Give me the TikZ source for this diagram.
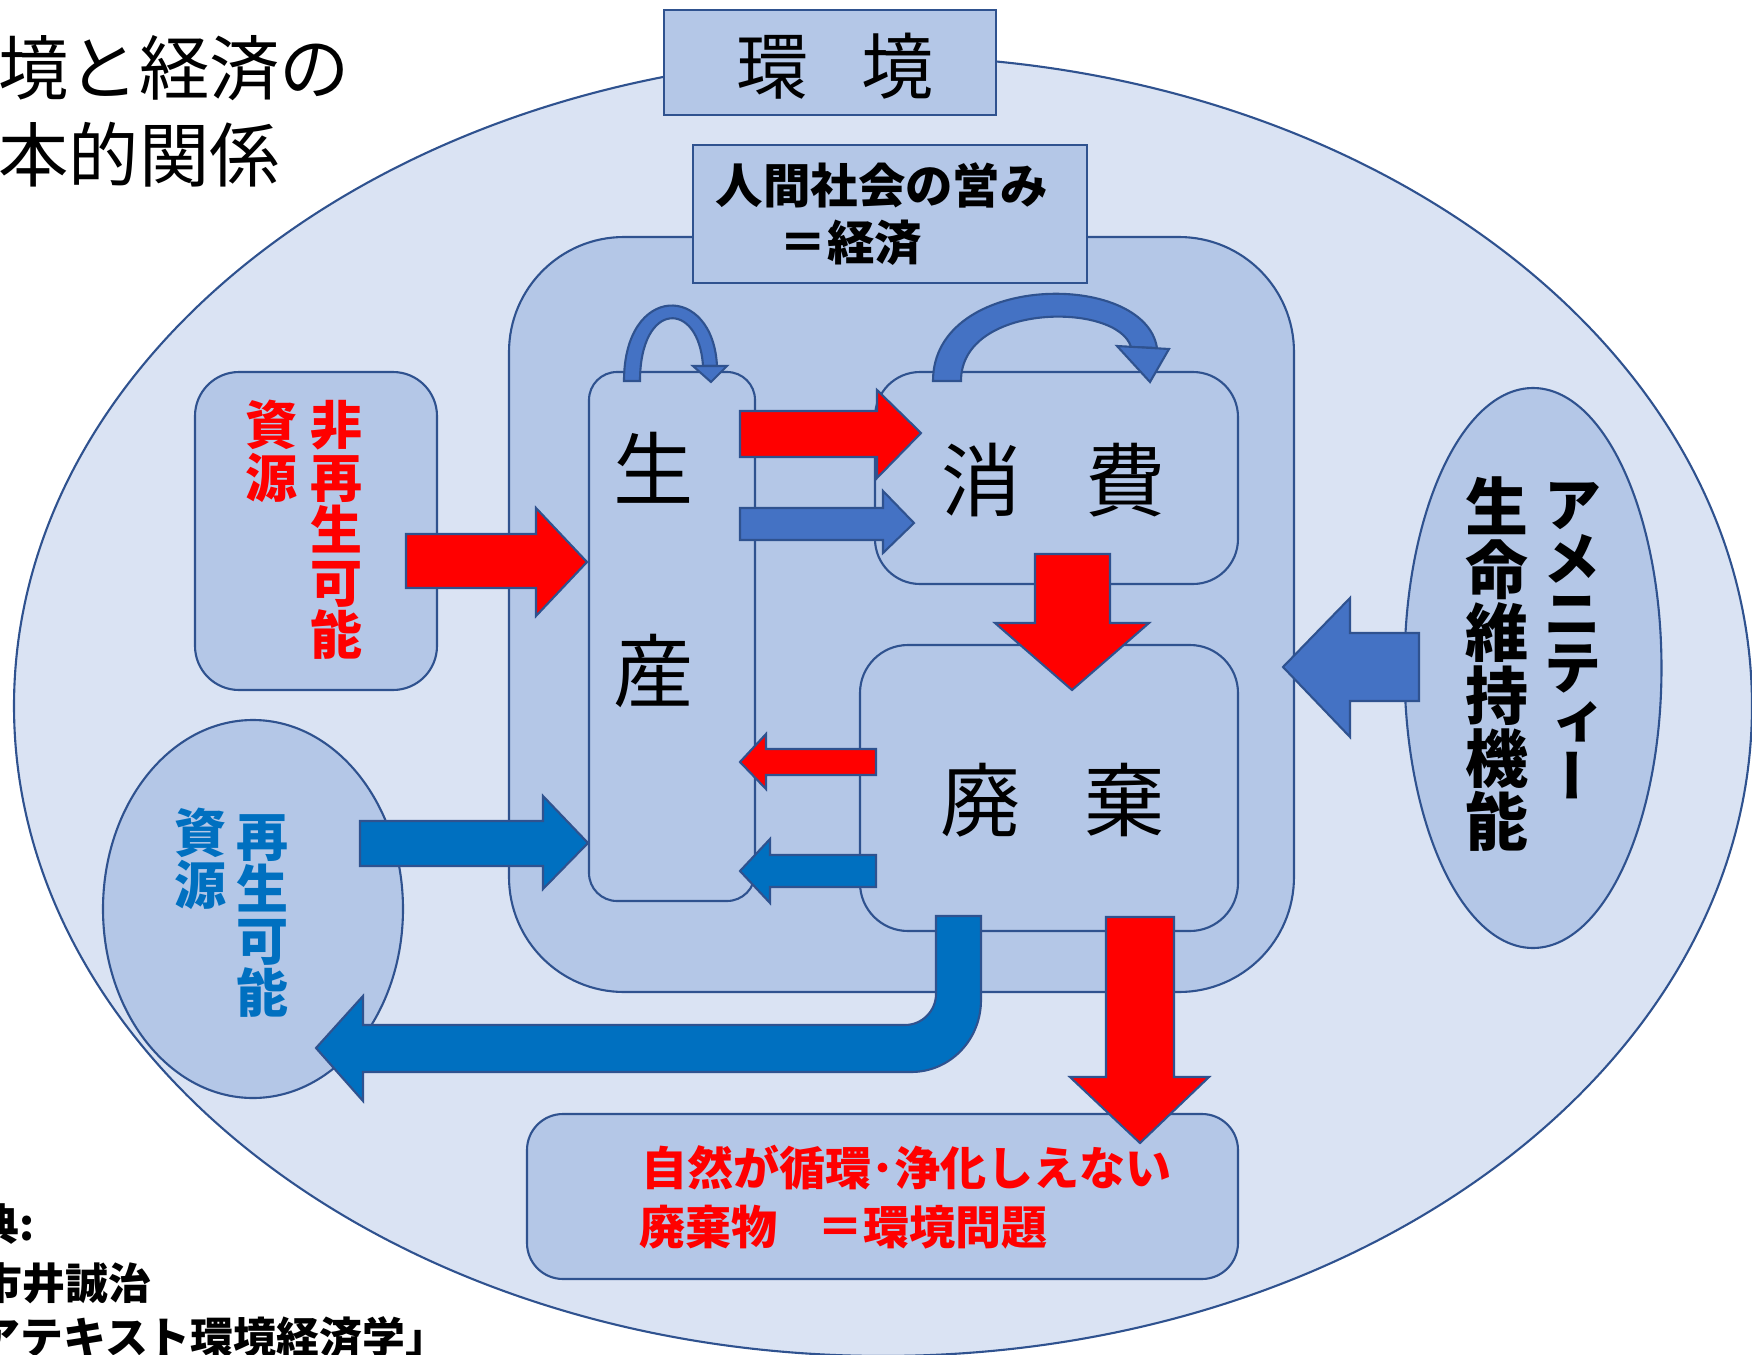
\documentclass[tikz,border=0pt]{standalone}
\usepackage{fontspec}
\newfontfamily\jp{Noto Sans CJK JP}
\newfontfamily\jpv[RawFeature=+vert]{Noto Sans CJK JP}
\usetikzlibrary{shapes.geometric}
\definecolor{envfill}{HTML}{DAE3F3}
\definecolor{boxfill}{HTML}{B4C7E7}
\definecolor{edge}{HTML}{2F528F}
\definecolor{accent}{HTML}{4472C4}
\definecolor{recyc}{HTML}{0070C0}
\definecolor{nred}{HTML}{FF0000}
\begin{document}
\begin{tikzpicture}[x=0.1mm,y=-0.1mm,
  shapeline/.style={draw=edge, line width=0.6pt, line join=miter},
  roundbox/.style={shapeline, fill=boxfill, rectangle, inner sep=0pt},
  oval/.style={shapeline, fill=boxfill, ellipse, inner sep=0pt},
  blockred/.style={shapeline, fill=nred},
  blockblue/.style={shapeline, fill=recyc},
  blockacc/.style={shapeline, fill=accent},
  titletext/.style={inner sep=0pt, anchor=west, font=\jp\fontsize{20pt}{22pt}\selectfont},
  srctext/.style={inner sep=0pt, anchor=west, font=\jp\bfseries\fontsize{12.2pt}{14pt}\selectfont},
  bigchar/.style={inner sep=0pt, font=\jp\fontsize{22.8pt}{24pt}\selectfont},
  envchar/.style={inner sep=0pt, font=\jp\fontsize{20.5pt}{22pt}\selectfont},
  ecotext/.style={inner sep=0pt, anchor=west, font=\jp\bfseries\fontsize{13.5pt}{15pt}\selectfont},
  vred/.style={inner sep=0pt, text=nred, text height=12.9pt, text depth=1.7pt, font=\jp\bfseries\fontsize{14.8pt}{15pt}\selectfont},
  vblue/.style={inner sep=0pt, text=recyc, text height=12.9pt, text depth=1.7pt, font=\jp\bfseries\fontsize{14.8pt}{15pt}\selectfont},
  vblack/.style={inner sep=0pt, text height=15.6pt, text depth=2.1pt, font=\jpv\bfseries\fontsize{17.9pt}{18pt}\selectfont},
  vkana/.style={inner sep=0pt, text height=13.4pt, text depth=1.8pt, font=\jpv\bfseries\fontsize{16.6pt}{17pt}\selectfont},
  probtext/.style={inner sep=0pt, anchor=west, text=nred, font=\jp\bfseries\fontsize{13.1pt}{14pt}\selectfont}
]
\useasboundingbox (0,0) rectangle (1752,1355);
\clip (0,0) rectangle (1752,1355);

% environment
\node[oval, fill=envfill, minimum width=173.8mm, minimum height=130mm] (env) at (883,706) {};
\node[roundbox, minimum width=33.2mm, minimum height=10.5mm] (envbox) at (830,62.5) {};
% economy
\node[roundbox, rounded corners=11.5mm, minimum width=78.5mm, minimum height=75.5mm] (eco) at (901.5,614.5) {};
\node[roundbox, minimum width=39.4mm, minimum height=13.8mm] (ecobox) at (890,214) {};
% resources
\node[roundbox, rounded corners=4.4mm, minimum width=24.2mm, minimum height=31.8mm] (nonren) at (316,531) {};
\node[oval, minimum width=30mm, minimum height=37.8mm] (ren) at (253,909) {};
\node[oval, minimum width=25.7mm, minimum height=56mm] (amen) at (1533,668) {};
% economy parts
\node[roundbox, rounded corners=2.8mm, minimum width=16.6mm, minimum height=52.9mm] (prod) at (672,636.5) {};
\node[roundbox, rounded corners=4.5mm, minimum width=36.3mm, minimum height=21.2mm] (cons) at (1056.5,478) {};
\node[roundbox, rounded corners=4.8mm, minimum width=37.8mm, minimum height=28.6mm] (waste) at (1049,788) {};
\node[roundbox, rounded corners=3.6mm, minimum width=71.1mm, minimum height=16.5mm] (prob) at (882.5,1196.5) {};

% curved arrows on top
\draw[blockacc] (624,381) .. controls (624,283) and (713,283) .. (717,366)
   -- (703,366) .. controls (699,300) and (640,300) .. (640,381) -- cycle;
\draw[blockacc] (693,366) -- (727,366) -- (711,382) -- cycle;
\draw[blockacc] (933,381) .. controls (933,272) and (1145,270) .. (1157,348)
   -- (1131,347) .. controls (1118,302) and (961,302) .. (961,381) -- cycle;
\draw[blockacc] (1117,346) -- (1169,349) -- (1150,382) -- cycle;

% straight block arrows
\draw[blockred] (406,534) -- (536,534) -- (536,508) -- (587,562) -- (536,616) -- (536,588) -- (406,588) -- cycle;
\draw[blockblue] (360,821) -- (543,821) -- (543,796) -- (588,843) -- (543,889) -- (543,866) -- (360,866) -- cycle;
\draw[blockred] (740,411) -- (877,411) -- (877,390) -- (921,433) -- (877,478) -- (877,457) -- (740,457) -- cycle;
\draw[blockacc] (740,508) -- (883,508) -- (883,491) -- (914,523) -- (883,553) -- (883,540) -- (740,540) -- cycle;
\draw[blockred] (1035,554) -- (1110,554) -- (1110,623) -- (1149,623) -- (1072,690) -- (995,623) -- (1035,623) -- cycle;
\draw[blockred] (876,749) -- (766,749) -- (766,734) -- (740,762) -- (766,789) -- (766,775) -- (876,775) -- cycle;
\draw[blockblue] (876,855) -- (770,855) -- (770,839) -- (740,871) -- (770,903) -- (770,887) -- (876,887) -- cycle;
\draw[blockacc] (1419,633) -- (1350,633) -- (1350,598) -- (1283,667) -- (1350,737) -- (1350,701) -- (1419,701) -- cycle;
\draw[blockred] (1106,917) -- (1174,917) -- (1174,1077) -- (1209,1077) -- (1140,1143) -- (1070,1077) -- (1106,1077) -- cycle;
\draw[blockblue] (936,916) -- (981,916) -- (981,1000) .. controls (981,1040) and (950,1072) .. (911,1072)
   -- (363,1072) -- (363,1101) -- (316,1048) -- (363,996) -- (363,1025) -- (905,1025)
   .. controls (922,1025) and (936,1011) .. (936,994) -- cycle;

% texts
\node[titletext] (t1) at (-2,68) {境と経済の};
\node[titletext] (t2) at (-2,155) {本的関係};
\node[envchar] (envlabel) at (835,66) {環\hspace{5.3mm}境};
\node[ecotext] (eco1) at (715,185) {人間社会の営み};
\node[ecotext] (eco2) at (779,243) {＝経済};
\node[bigchar] (p1) at (654,468) {生};
\node[bigchar] (p2) at (654,671) {産};
\node[bigchar] (consl) at (1054,480) {消\hspace{6.4mm}費};
\node[bigchar] (wastel) at (1053,800) {廃\hspace{6.4mm}棄};
\foreach \c [count=\i from 0] in {非,再,生,可,能}
  \node[vred] (nr\i) at (337,425+52.5*\i) {\c};
\foreach \c [count=\i from 0] in {資,源}
  \node[vred] (nrs\i) at (272,425+52.5*\i) {\c};
\foreach \c [count=\i from 0] in {再,生,可,能}
  \node[vblue] (rn\i) at (263,837+52*\i) {\c};
\foreach \c [count=\i from 0] in {資,源}
  \node[vblue] (rns\i) at (201,833+52*\i) {\c};
\foreach \c [count=\i from 0] in {生,命,維,持,機,能}
  \node[vblack] (am\i) at (1497,507+63*\i) {\c};
\foreach \c [count=\i from 0] in {ア,メ,ニ,テ,ィ,ー}
  \node[vkana] (ak\i) at (1573,506+54.5*\i) {\c};
\node[probtext] (pr1) at (641,1168) {自然が循環･浄化しえない};
\node[probtext] (pr2) at (639,1227) {廃棄物\hspace{4mm}＝環境問題};
\node[srctext] (s1) at (-24,1224) {典:};
\node[srctext] (s2) at (-21,1283) {市井誠治};
\node[srctext] (s3) at (-23,1337) {アテキスト環境経済学」};
\end{tikzpicture}
\end{document}
